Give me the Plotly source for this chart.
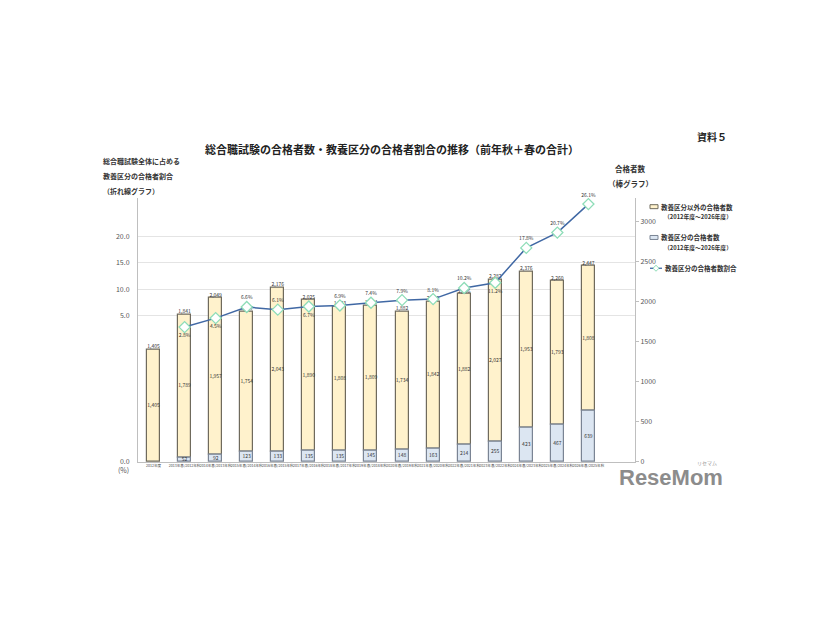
import plotly.graph_objects as go

categories = ["2012年度", "2013年春/2012年秋", "2014年春/2013年秋", "2015年春/2014年秋", "2016年春/2015年秋",
              "2017年春/2016年秋", "2018年春/2017年秋", "2019年春/2018年秋", "2020年春/2019年秋",
              "2021年春/2020年秋", "2022年春/2021年秋", "2023年春/2022年秋", "2024年春/2023年秋",
              "2025年春/2024年秋", "2026年春/2025年秋"]
kyoyo = [None, 52, 92, 123, 133, 135, 135, 145, 148, 163, 214, 255, 423, 467, 639]
other = [1405, 1789, 1957, 1754, 2043, 1890, 1808, 1809, 1734, 1842, 1882, 2027, 1953, 1793, 1808]
total = [1405, 1841, 2049, 1877, 2176, 2025, 1943, 1954, 1882, 2005, 2096, 2282, 2376, 2260, 2447]
ratio = [None, 2.8, 4.5, 6.6, 6.1, 6.7, 6.9, 7.4, 7.9, 8.1, 10.2, 11.2, 17.8, 20.7, 26.1]
ratio_pos = [None, "bottom center", "bottom center", "top center", "top center", "bottom center",
             "top center", "top center", "top center", "top center", "top center", "bottom center",
             "top center", "top center", "top center"]
legend_names = ["教養区分以外の合格者数", "教養区分の合格者数", "教養区分の合格者数割合"]
legend_sub = "（2012年度～2026年度）"

x = list(range(len(categories)))
# page has an 8px body margin; figure fills the rest of the 826x620 window
OFF = 8
W, H = 826 - 2 * OFF, 620 - 2 * OFF
def px(v): return (v - OFF) / W
def py(v): return 1 - (v - OFF) / H

FONT = "Noto Sans CJK JP"
UP_FILL, UP_LINE = "#FFF2CC", "#6F6A5C"
LO_FILL, LO_LINE = "#DCE6F2", "#7A8494"
LINE_C, MK_C = "#4068A4", "#8EDDB8"

fig = go.Figure()
fig.add_trace(go.Bar(x=x, y=other, base=[k or 0 for k in kyoyo], width=0.42, name=legend_names[0],
                     marker=dict(color=UP_FILL, line=dict(color=UP_LINE, width=1.2)), yaxis="y",
                     showlegend=False))
fig.add_trace(go.Bar(x=x, y=kyoyo, width=0.42, name=legend_names[1],
                     marker=dict(color=LO_FILL, line=dict(color=LO_LINE, width=1.2)), yaxis="y",
                     showlegend=False))

kx = [i for i in x if kyoyo[i]]
fig.add_trace(go.Scatter(x=kx, y=[kyoyo[i] / 2 for i in kx], mode="text",
                         text=[str(kyoyo[i]) for i in kx], textfont=dict(size=5, color="#333"),
                         showlegend=False, yaxis="y", hoverinfo="skip"))
fig.add_trace(go.Scatter(x=x, y=[(kyoyo[i] or 0) + other[i] / 2 for i in x], mode="text",
                         text=[f"{v:,}" for v in other], textfont=dict(size=5, color="#333"),
                         showlegend=False, yaxis="y", hoverinfo="skip"))
fig.add_trace(go.Scatter(x=x, y=total, mode="text", text=[f"{v:,}" for v in total],
                         textposition="top center", textfont=dict(size=5, color="#333"),
                         showlegend=False, yaxis="y", hoverinfo="skip"))

fig.add_trace(go.Scatter(x=x, y=ratio, mode="lines+markers+text", name=legend_names[2],
                         text=[f"{v}%" if v else "" for v in ratio],
                         textposition=[p or "top center" for p in ratio_pos],
                         textfont=dict(size=5, color="#333"),
                         line=dict(color=LINE_C, width=1.5),
                         marker=dict(symbol="diamond", size=8.5, color="white",
                                     line=dict(color=MK_C, width=1.3)),
                         yaxis="y2", cliponaxis=False, showlegend=False))

fig.update_layout(
    width=W, height=H, autosize=False, margin=dict(l=0, r=0, t=0, b=0),
    paper_bgcolor="white", plot_bgcolor="rgba(0,0,0,0)",
    font=dict(family=FONT, color="#333"),
    barmode="overlay", bargap=0, showlegend=False,
    xaxis=dict(domain=[px(138), px(635)], range=[-0.5, 15.5], tickmode="array", tickvals=x,
               ticktext=categories, tickangle=0, tickfont=dict(size=3.6, color="#444"),
               showline=True, linecolor="#BFBFBF", linewidth=1, ticks="", showgrid=False,
               zeroline=False),
    yaxis=dict(domain=[py(465), py(199)], range=[0, 3300], side="right", anchor="x",
               tickvals=[0, 500, 1000, 1500, 2000, 2500, 3000], tickfont=dict(size=7, color="#555"),
               showgrid=False, zeroline=False, ticks="outside", ticklen=3, tickcolor="#BFBFBF",
               showline=True, linecolor="#BFBFBF"),
    yaxis2=dict(domain=[py(465), py(199)], overlaying="y", side="left", anchor="x",
                range=[-22.75, 27.3], tickmode="array", tickvals=[-22.75, 5, 10, 15, 20],
                ticktext=["0.0", "5.0", "10.0", "15.0", "20.0"], tickfont=dict(size=7, color="#555"),
                showgrid=True, gridcolor="#E4E4E4", gridwidth=1, zeroline=False,
                showline=True, linecolor="#BFBFBF", ticks="", ticklabelstandoff=6),
)

ann = [
    dict(text="<b>総合職試験の合格者数・教養区分の合格者割合の推移（前年秋＋春の合計）</b>",
         x=px(392), y=py(150), font=dict(size=11, color="#222")),
    dict(text="<b>資料５</b>", x=px(712), y=py(137), font=dict(size=10, color="#222")),
    dict(text="<b>総合職試験全体に占める</b>", x=px(101), y=py(162), xanchor="left", font=dict(size=7)),
    dict(text="<b>教養区分の合格者割合</b>", x=px(101), y=py(177), xanchor="left", font=dict(size=7)),
    dict(text="<b>（折れ線グラフ）</b>", x=px(101), y=py(192), xanchor="left", font=dict(size=7)),
    dict(text="<b>合格者数</b>", x=px(630), y=py(170), font=dict(size=7.5)),
    dict(text="<b>（棒グラフ）</b>", x=px(630), y=py(185), font=dict(size=7.5)),
    dict(text="(%)", x=px(123), y=py(473), font=dict(size=7, color="#555")),
    dict(text="<b>ReseMom</b>", x=px(671), y=py(481), font=dict(size=22, color="#8C8C8C", family="Liberation Sans")),
    dict(text="リセマム", x=px(707), y=py(466), font=dict(size=5, color="#999")),
    # manual legend texts
    dict(text="<b>" + legend_names[0] + "</b>", x=px(659), y=py(208), xanchor="left", font=dict(size=6.5)),
    dict(text="<b>" + legend_sub + "</b>", x=px(662), y=py(218), xanchor="left", font=dict(size=5.8)),
    dict(text="<b>" + legend_names[1] + "</b>", x=px(659), y=py(239), xanchor="left", font=dict(size=6.5)),
    dict(text="<b>" + legend_sub + "</b>", x=px(662), y=py(249), xanchor="left", font=dict(size=5.8)),
    dict(text="<b>" + legend_names[2] + "</b>", x=px(663), y=py(270), xanchor="left", font=dict(size=6.5)),
]
for a in ann:
    a.setdefault("xanchor", "center")
    fig.add_annotation(xref="paper", yref="paper", showarrow=False, yanchor="middle", **a)

# legend symbols
def rect(x0, y0, x1, y1, fill, line):
    fig.add_shape(type="rect", xref="paper", yref="paper", x0=px(x0), x1=px(x1), y0=py(y0), y1=py(y1),
                  fillcolor=fill, line=dict(color=line, width=1))
rect(650, 206, 658, 210, UP_FILL, UP_LINE)
rect(650, 237, 658, 241, LO_FILL, LO_LINE)
fig.add_shape(type="line", xref="paper", yref="paper", x0=px(650), x1=px(662), y0=py(270), y1=py(270),
              line=dict(color=LINE_C, width=1.3))
cx, cy = 656, 270
fig.add_shape(type="path", xref="paper", yref="paper",
              path=f"M {px(cx-3)},{py(cy)} L {px(cx)},{py(cy-3)} L {px(cx+3)},{py(cy)} L {px(cx)},{py(cy+3)} Z",
              fillcolor="white", line=dict(color=MK_C, width=1))

fig.write_html("out.html")
